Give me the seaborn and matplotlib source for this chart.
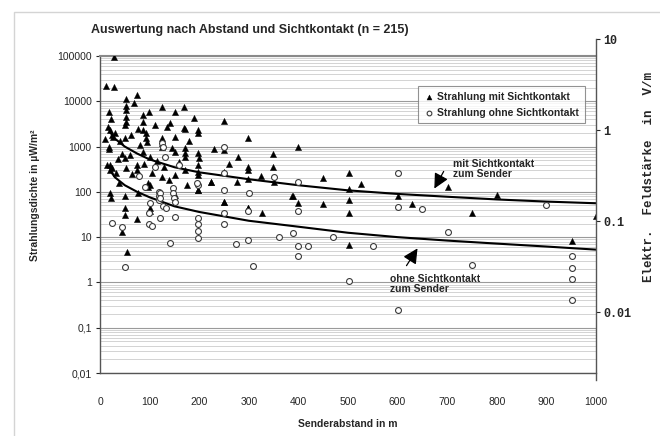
import numpy as np
import pandas as pd
import matplotlib
matplotlib.use("Agg")
import matplotlib.pyplot as plt
import seaborn as sns
from matplotlib.patches import Rectangle
from matplotlib.ticker import LogLocator, FixedLocator, NullFormatter

# Strahlung mit Sichtkontakt (triangles)
mit_x = [29, 13, 28, 52, 75, 69, 52, 52, 18, 99, 124, 151, 170,
         52, 52, 50, 86, 86, 141, 76, 86, 17, 20, 170,
         24, 27, 50, 92, 92, 94, 126, 126, 151,
         18, 18, 126, 86, 151, 171, 171, 172, 101,
         36, 50, 20, 24, 20, 52, 75, 75, 126, 151, 38, 97, 97, 20, 22, 51, 76,
         50, 50, 44, 54, 75, 101, 101, 101, 151, 198, 223, 250, 299, 326, 351,
         390, 400, 450, 503, 503, 503, 527, 503,
         400, 450, 503, 601, 630, 702, 751, 801, 951, 1000,
         171, 198, 198, 251, 299, 198, 198, 198, 251, 279, 299, 299, 349, 349,
         325, 299, 276, 224, 198, 171, 251, 198, 251, 299, 388,
         10, 15, 30, 40, 60, 65, 80, 110, 115, 130, 140, 160, 180, 190, 200,
         230, 260, 22, 33, 45, 62, 88, 105, 135, 145, 175]
mit_y = [97000, 22000, 21000, 11000, 13800, 9000, 7900, 6500, 5900, 5900, 7600, 5800, 7300,
         4600, 3550, 3000, 5000, 3550, 3270, 2400, 2350, 2750, 2350, 2530,
         1800, 1650, 1520, 2000, 1550, 1280, 1520, 1200, 1600,
         1000, 870, 1000, 775, 775, 915, 710, 600, 600,
         525, 550, 390, 330, 305, 330, 390, 305, 215, 235, 155, 155, 127, 93, 72, 79, 93,
         44, 31, 13, 4.8, 25, 142, 44, 37, 85, 110, 168, 60, 44, 34, 168,
         79, 58, 54, 115, 66, 34, 150, 6.7,
         1000, 200, 257, 79, 54, 126, 34, 85, 8.3, 30,
         2400, 2350, 1950, 3700, 1520, 710, 390, 280, 840, 580, 360, 305, 690, 360,
         224, 190, 168, 168, 235, 305, 280, 110, 60, 44, 79,
         1500, 400, 2000, 1300, 650, 250, 1100, 3000, 480, 350, 180, 450, 1300, 4200, 560,
         900, 420, 4000, 260, 700, 1800, 420, 260, 2700, 950, 140]

# Strahlung ohne Sichtkontakt (open circles)
ohne_x = [124, 128, 132, 111, 79, 119, 119, 119, 101, 148, 148, 150, 128,
          24, 44, 50, 99, 99, 104, 121, 121, 120, 133, 151, 151, 141,
          198, 198, 198, 198, 198, 250, 250, 250, 274, 299, 299, 308, 360,
          390, 400, 400, 400, 420, 470, 503, 551,
          250, 250, 351, 196, 400, 601, 601, 650, 702, 751, 601, 900,
          951, 951, 951, 951, 300, 160, 90]
ohne_y = [1200, 1000, 580, 360, 225, 100, 81, 66, 56, 120, 93, 72, 49,
          21, 17, 2.2, 34, 20, 18, 93, 72, 26, 44, 60, 28, 7.3,
          142, 26, 20, 14, 9.5, 110, 34, 20, 7, 37, 8.6, 2.3, 10.3,
          12.6, 37, 6.4, 3.8, 6.4, 10.3, 1.05, 6.4,
          1000, 257, 210, 155, 168, 257, 47, 41, 13, 2.4, 0.24, 50,
          3.8, 2.1, 1.2, 0.4, 95, 400, 130]

# Trend curves
fit_x = [20, 30, 50, 75, 100, 150, 200, 300, 400, 500, 600, 700, 800, 900, 1000]
fit_mit = [2100, 1500, 1000, 700, 520, 350, 270, 190, 140, 108, 90, 78, 68, 61, 56]
fit_ohne = [300, 210, 140, 100, 76, 48, 36, 23, 17, 12.5, 10, 8.4, 7.2, 6.2, 5.3]

y_ticks = [0.01, 0.1, 1, 10, 100, 1000, 10000, 100000]
y_labels = ['0,01', '0,1', '1', '10', '100', '1000', '10000', '100000']
x_ticks = list(range(0, 1001, 100))
e_ticks = [0.01, 0.1, 1, 10]
e_labels = ['0.01', '0.1', '1', '10']

sns.set_style('white')
plt.rcParams['font.family'] = ['Liberation Sans', 'DejaVu Sans']
mono = ['Liberation Mono', 'DejaVu Sans Mono']

W, H = 660, 436
fig = plt.figure(figsize=(6.6, 4.36), dpi=100)

def fx(px):
    return (px - 100) / 496

def fy(py):
    return (373 - py) / 317

ax = fig.add_axes([100 / W, (H - 373) / H, 496 / W, 317 / H])

df_mit = pd.DataFrame({'x': mit_x, 'y': mit_y})
df_ohne = pd.DataFrame({'x': ohne_x, 'y': ohne_y})
df_fit = pd.DataFrame({'x': fit_x, 'mit': fit_mit, 'ohne': fit_ohne})

ax.set_yscale('log')
sns.lineplot(data=df_fit, x='x', y='mit', color='black', lw=1.5, ax=ax, legend=False)
sns.lineplot(data=df_fit, x='x', y='ohne', color='black', lw=1.5, ax=ax, legend=False)
sns.scatterplot(data=df_mit, x='x', y='y', marker='^', s=20, color='black',
                edgecolor='black', linewidth=0.3, ax=ax, label='Strahlung mit Sichtkontakt', zorder=3)
sns.scatterplot(data=df_ohne, x='x', y='y', marker='o', s=18, color='white',
                edgecolor='#3a3a3a', linewidth=0.8, ax=ax, label='Strahlung ohne Sichtkontakt', zorder=3)

ax.set_xlim(0, 1000)
ax.set_ylim(0.01, 100000)
ax.yaxis.set_major_locator(FixedLocator(y_ticks))
ax.set_yticklabels(y_labels)
ax.yaxis.set_minor_locator(LogLocator(base=10, subs=np.arange(2, 10), numticks=20))
ax.yaxis.set_minor_formatter(NullFormatter())
ax.set_xticks(x_ticks)
ax.set_xticklabels([str(v) for v in x_ticks])
ax.grid(which='major', axis='y', color='#9a9a9a', lw=0.8)
ax.grid(which='minor', axis='y', color='#cccccc', lw=0.6)
ax.tick_params(axis='y', which='major', length=3, width=0.8, direction='out', labelsize=7.5, pad=3, left=True)
ax.tick_params(axis='y', which='minor', length=0)
ax.tick_params(axis='x', length=0, labelsize=7.5, pad=17)
for side in ['left', 'bottom']:
    ax.spines[side].set_color('#555555')
    ax.spines[side].set_linewidth(1.0)
ax.spines['top'].set_color('#8a8a8a')
ax.spines['top'].set_linewidth(1.5)
ax.spines['right'].set_visible(False)

ax.set_xlabel('Senderabstand in m', fontsize=7.5, fontweight='bold')
ax.xaxis.set_label_coords(0.5, -0.145)
ax.set_ylabel('Strahlungsdichte in µW/m²', fontsize=7.5, fontweight='bold')
ax.yaxis.set_label_coords(-0.12, 0.56)

leg = ax.legend(loc='upper right', bbox_to_anchor=(fx(590), fy(81)), frameon=True,
                fancybox=False, edgecolor='#777777', fontsize=7.5, markerscale=0.8,
                handletextpad=0.3, borderpad=0.55, labelspacing=0.55, handlelength=1.0)
leg.get_frame().set_linewidth(0.8)
for t in leg.get_texts():
    t.set_fontweight('bold')

# annotations
ax.text(fx(453), fy(169), 'mit Sichtkontakt\nzum Sender', transform=ax.transAxes,
        ha='left', va='center', fontsize=7.5, fontweight='bold', linespacing=1.1)
ax.annotate('', xy=(fx(433), fy(191)), xytext=(fx(445), fy(169)),
            xycoords='axes fraction', textcoords='axes fraction',
            arrowprops=dict(arrowstyle='-|>,head_length=0.9,head_width=0.45', color='black', lw=0.9))
ax.text(fx(390), fy(284), 'ohne Sichtkontakt\nzum Sender', transform=ax.transAxes,
        ha='left', va='center', fontsize=7.5, fontweight='bold', linespacing=1.1)
ax.annotate('', xy=(fx(419), fy(246)), xytext=(fx(405), fy(268)),
            xycoords='axes fraction', textcoords='axes fraction',
            arrowprops=dict(arrowstyle='-|>,head_length=0.9,head_width=0.45', color='black', lw=0.9))

# right axis: electric field strength
ax2 = fig.add_axes([100 / W, (H - 380) / H, 496 / W, 341 / H])
ax2.patch.set_visible(False)
ax2.set_yscale('log')
ax2.set_ylim(10 ** -2.747, 10)
ax2.set_xticks([])
for side in ['left', 'top', 'bottom']:
    ax2.spines[side].set_visible(False)
ax2.spines['right'].set_color('#555555')
ax2.spines['right'].set_linewidth(1.0)
ax2.yaxis.tick_right()
ax2.yaxis.set_major_locator(FixedLocator(e_ticks))
ax2.set_yticklabels(e_labels, family=mono, fontweight='bold')
ax2.yaxis.set_minor_locator(FixedLocator([]))
ax2.tick_params(axis='y', length=3, width=0.8, labelsize=8.5, pad=2)
ax2.yaxis.set_label_position('right')
ax2.set_ylabel('Elektr.  Feldstärke  in  V/m', fontsize=9, fontweight='bold', family=mono)
ax2.yaxis.set_label_coords(1.095, 0.595)

fig.text(250 / W, 1 - 30 / H, 'Auswertung nach Abstand und Sichtkontakt (n = 215)',
         ha='center', va='center', fontsize=9, fontweight='bold')

fig.patches.append(Rectangle((14 / W, -0.1), 2, (H - 12) / H + 0.1, transform=fig.transFigure,
                             fill=False, edgecolor='#d4d4d4', lw=1))

fig.savefig('out.png', dpi=100)
